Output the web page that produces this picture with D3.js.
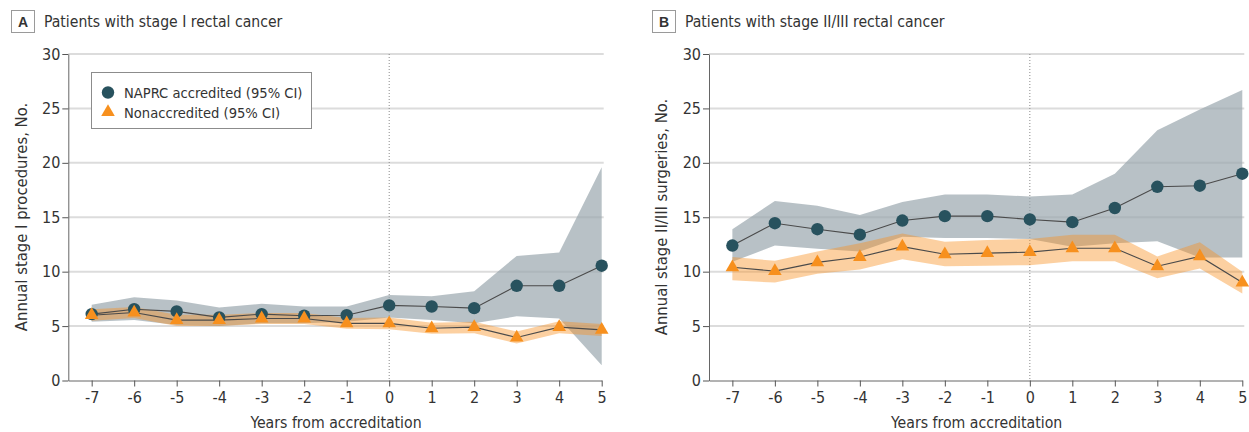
<!DOCTYPE html>
<html>
<head>
<meta charset="utf-8">
<script src="https://cdn.jsdelivr.net/npm/d3@7"></script>
<style>
  html, body { margin: 0; padding: 0; background: #fff; }
  svg { display: block; }
</style>
</head>
<body>
<svg id="chart" width="1249" height="432"></svg>
<script>
// Years relative to the accreditation date
const years = [-7, -6, -5, -4, -3, -2, -1, 0, 1, 2, 3, 4, 5];
const yTicks = [0, 5, 10, 15, 20, 25, 30];

// Stage I: annual procedures
const stageIAccredited     = [6.1, 6.55, 6.35, 5.8, 6.1, 5.95, 6.0, 6.9, 6.8, 6.65, 8.7, 8.7, 10.55];
const stageIAccreditedLow  = [5.4, 5.55, 5.1, 5.0, 5.25, 5.25, 5.4, 5.8, 5.55, 5.25, 5.9, 5.7, 1.4];
const stageIAccreditedHigh = [6.95, 7.65, 7.35, 6.7, 7.05, 6.8, 6.8, 7.85, 7.75, 8.2, 11.45, 11.75, 19.6];
const stageINonacc         = [6.0, 6.25, 5.55, 5.55, 5.7, 5.7, 5.25, 5.25, 4.8, 4.9, 3.95, 4.9, 4.65];
const stageINonaccLow      = [5.5, 5.75, 5.0, 5.0, 5.2, 5.2, 4.75, 4.7, 4.3, 4.35, 3.4, 4.35, 4.1];
const stageINonaccHigh     = [6.55, 6.75, 6.05, 6.05, 6.2, 6.2, 5.75, 5.8, 5.3, 5.4, 4.5, 5.45, 5.2];

// Stage II/III: annual surgeries
const stageIIAccredited     = [12.4, 14.45, 13.9, 13.4, 14.7, 15.1, 15.1, 14.8, 14.55, 15.85, 17.8, 17.9, 19.0];
const stageIIAccreditedLow  = [10.9, 12.4, 12.1, 11.85, 13.2, 13.1, 13.1, 13.0, 12.3, 12.6, 12.8, 11.3, 11.3];
const stageIIAccreditedHigh = [13.9, 16.5, 16.05, 15.2, 16.4, 17.1, 17.1, 16.9, 17.1, 19.0, 23.0, 24.9, 26.7];
const stageIINonacc         = [10.4, 10.05, 10.85, 11.35, 12.3, 11.6, 11.7, 11.8, 12.15, 12.15, 10.5, 11.4, 9.0];
const stageIINonaccLow      = [9.2, 9.0, 9.8, 10.2, 11.15, 10.5, 10.55, 10.6, 10.95, 10.95, 9.4, 10.3, 8.0];
const stageIINonaccHigh     = [11.35, 11.0, 11.85, 12.6, 13.5, 12.75, 12.9, 13.0, 13.4, 13.4, 11.4, 12.7, 10.0];

const legendLabels = ["NAPRC accredited (95% CI)", "Nonaccredited (95% CI)"];

const FONT = "'DejaVu Sans Condensed', 'Liberation Sans Narrow', 'Liberation Sans', sans-serif";
const DARK = "#28525e";
const ORANGE = "#f7901e";
const TEXT = "#333";

const svg = d3.select("#chart");

function drawPanel(p) {
  const g = svg.append("g");
  const x = d3.scaleLinear().domain([-7.55, 5]).range([p.left, p.right]);
  const y = d3.scaleLinear().domain([0, 30]).range([380.5, 54]);

  // panel letter + title
  g.append("rect").attr("x", p.boxX + 0.5).attr("y", 10.5).attr("width", 23).attr("height", 22)
    .attr("fill", "#fff").attr("stroke", "#9a9a9a").attr("stroke-width", 1);
  g.append("text").attr("x", p.boxX + 12).attr("y", 26.5).attr("text-anchor", "middle")
    .attr("font-family", "'Liberation Sans', sans-serif").attr("font-weight", "bold")
    .attr("font-size", 14).attr("fill", TEXT).text(p.letter);
  g.append("text").attr("x", p.boxX + 33).attr("y", 27).attr("font-family", FONT)
    .attr("font-size", 15.6).attr("fill", TEXT).text(p.title);

  // gridlines
  g.append("g").selectAll("line").data(yTicks.filter(d => d > 0)).join("line")
    .attr("x1", p.left).attr("x2", x(5) + 2)
    .attr("y1", d => y(d)).attr("y2", d => y(d))
    .attr("stroke", "#dcdcdc").attr("stroke-width", 2);

  // accreditation reference line
  g.append("line").attr("x1", x(0)).attr("x2", x(0)).attr("y1", y(30)).attr("y2", y(0))
    .attr("stroke", "#8a8a8a").attr("stroke-width", 1).attr("stroke-dasharray", "1,2");

  const band = (lo, hi) => d3.area().x((d, i) => x(years[i])).y0((d, i) => y(lo[i])).y1((d, i) => y(hi[i]));
  const line = vals => d3.line().x((d, i) => x(years[i])).y((d, i) => y(vals[i]));

  // confidence bands
  g.append("path").attr("d", band(p.accLow, p.accHigh)(p.acc))
    .attr("fill", "#9aa6ae").attr("fill-opacity", 0.7);
  g.append("path").attr("d", band(p.nonLow, p.nonHigh)(p.non))
    .attr("fill", ORANGE).attr("fill-opacity", 0.42);

  // connecting lines
  g.append("path").attr("d", line(p.acc)(p.acc)).attr("fill", "none")
    .attr("stroke", "#4a4a4a").attr("stroke-width", 1.1);
  g.append("path").attr("d", line(p.non)(p.non)).attr("fill", "none")
    .attr("stroke", "#4a4a4a").attr("stroke-width", 1.1);

  // markers
  g.append("g").selectAll("circle").data(p.acc).join("circle")
    .attr("cx", (d, i) => x(years[i])).attr("cy", d => y(d)).attr("r", 6.2).attr("fill", DARK);
  const tri = d3.symbol().type(d3.symbolTriangle).size(80);
  g.append("g").selectAll("path").data(p.non).join("path")
    .attr("d", tri).attr("transform", (d, i) => `translate(${x(years[i])},${y(d)})`).attr("fill", ORANGE);

  // axes
  const yAxis = g.append("g").attr("transform", `translate(${p.left},0)`)
    .call(d3.axisLeft(y).tickValues(yTicks).tickSize(6).tickSizeOuter(0).tickPadding(2)
      .tickFormat(d => String(d)));
  const xAxis = g.append("g").attr("transform", `translate(0,${y(0)})`)
    .call(d3.axisBottom(x).tickValues(years).tickSize(6).tickSizeOuter(0).tickPadding(5)
      .tickFormat(d => String(d)));
  [yAxis, xAxis].forEach(ax => {
    ax.selectAll("path.domain").attr("stroke", "#666");
    ax.selectAll(".tick line").attr("stroke", "#555");
    ax.selectAll(".tick text").attr("font-family", FONT).attr("font-size", 16).attr("fill", TEXT);
  });

  // axis titles
  g.append("text").attr("x", (p.left + x(5)) / 2 + 1).attr("y", 428).attr("text-anchor", "middle")
    .attr("font-family", FONT).attr("font-size", 15.7).attr("fill", TEXT).text("Years from accreditation");
  g.append("text").attr("transform", `translate(${p.yTitleX},217) rotate(-90)`).attr("text-anchor", "middle")
    .attr("font-family", FONT).attr("font-size", 16.5).attr("fill", TEXT).text(p.yTitle);

  return { x, y, g };
}

const a = drawPanel({
  letter: "A", title: "Patients with stage I rectal cancer", boxX: 11,
  left: 68.3, right: 601.7, yTitleX: 27, yTitle: "Annual stage I procedures, No.",
  acc: stageIAccredited, accLow: stageIAccreditedLow, accHigh: stageIAccreditedHigh,
  non: stageINonacc, nonLow: stageINonaccLow, nonHigh: stageINonaccHigh
});

drawPanel({
  letter: "B", title: "Patients with stage II/III rectal cancer", boxX: 652,
  left: 709, right: 1242.3, yTitleX: 667, yTitle: "Annual stage II/III surgeries, No.",
  acc: stageIIAccredited, accLow: stageIIAccreditedLow, accHigh: stageIIAccreditedHigh,
  non: stageIINonacc, nonLow: stageIINonaccLow, nonHigh: stageIINonaccHigh
});

// legend (panel A)
const lg = a.g.append("g");
lg.append("rect").attr("x", 91.5).attr("y", 72.5).attr("width", 220).attr("height", 56)
  .attr("fill", "#fff").attr("stroke", "#8c8c8c").attr("stroke-width", 1);
lg.append("circle").attr("cx", 108).attr("cy", 92.5).attr("r", 6.2).attr("fill", DARK);
lg.append("path").attr("d", d3.symbol().type(d3.symbolTriangle).size(80)())
  .attr("transform", "translate(108,112)").attr("fill", ORANGE);
lg.selectAll("text.lab").data(legendLabels).join("text").attr("class", "lab")
  .attr("x", 124).attr("y", (d, i) => 98 + i * 19.5)
  .attr("font-family", FONT).attr("font-size", 14.6).attr("fill", TEXT).text(d => d);
</script>
</body>
</html>
